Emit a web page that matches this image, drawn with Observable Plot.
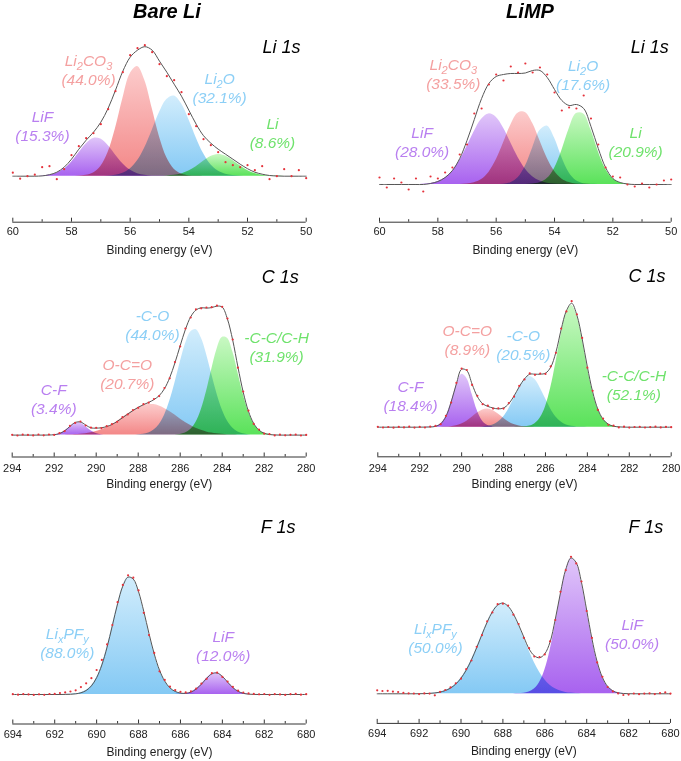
<!DOCTYPE html>
<html><head><meta charset="utf-8">
<script src="https://cdn.jsdelivr.net/npm/d3@7"></script>
<script src="https://cdn.jsdelivr.net/npm/@observablehq/plot@0.6"></script>
<style>
body{margin:0;background:#fff;font-family:"Liberation Sans",Arial,sans-serif;}
#root{position:relative;width:681px;height:761px;overflow:hidden;background:#fff;}
.title{position:absolute;font-weight:bold;font-style:italic;font-size:20px;transform:translate(-50%,-50%);white-space:nowrap;color:#000;}
</style></head>
<body>
<div id="root">
<svg width="0" height="0" style="position:absolute">
<defs>
<linearGradient id="g-purple" x1="0" y1="0" x2="0" y2="1"><stop offset="0" stop-color="#e0c6f9"/><stop offset="1" stop-color="#a862ef"/></linearGradient>
<linearGradient id="g-pink" x1="0" y1="0" x2="0" y2="1"><stop offset="0" stop-color="#fccccc"/><stop offset="1" stop-color="#f38787"/></linearGradient>
<linearGradient id="g-blue" x1="0" y1="0" x2="0" y2="1"><stop offset="0" stop-color="#d2edfc"/><stop offset="1" stop-color="#84c9f4"/></linearGradient>
<linearGradient id="g-green" x1="0" y1="0" x2="0" y2="1"><stop offset="0" stop-color="#c9f8c3"/><stop offset="1" stop-color="#5ae25a"/></linearGradient>
</defs>
</svg>
<div class="title" style="left:167px;top:11px">Bare Li</div>
<div class="title" style="left:530px;top:11px">LiMP</div>
</div>
<script>
// ---------- binding-energy sampling grids (eV) ----------
const liGrid = d3.range(60, 49.99, -0.25);   // 41 points
const cGrid  = d3.range(294, 279.99, -0.25); // 57 points
const fGrid  = d3.range(694, 679.99, -0.25); // 57 points

// ---------- Bare Li, Li 1s (intensity, a.u.) ----------
const bareLi1s_LiF    = [0,0,0,0,0.3,1.1,3.0,7.1,14.0,23.2,32.3,37.8,37.1,30.7,21.3,12.4,6.1,2.5,0.9,0.3,0.1,0,0,0,0,0,0,0,0,0,0,0,0,0,0,0,0,0,0,0,0];
const bareLi1s_Li2CO3 = [0,0,0,0,0,0,0,0,0,0.2,0.9,3.2,9.8,24.0,47.8,77.5,102.3,109.7,95.7,67.9,39.2,18.4,7.0,2.2,0.55,0.1,0,0,0,0,0,0,0,0,0,0,0,0,0,0,0];
const bareLi1s_Li2O   = [0,0,0,0,0,0,0,0,0,0,0,0,0,0.3,1.0,2.9,7.2,15.4,28.5,45.8,63.6,76.7,80.1,72.4,56.7,38.5,22.6,11.5,5.1,2.0,0.6,0.2,0,0,0,0,0,0,0,0,0];
const bareLi1s_Li     = [0,0,0,0,0,0,0,0,0,0,0,0,0,0,0,0,0,0,0,0,0,0.3,0.9,2.3,5.1,9.5,14.9,19.6,21.7,20.2,15.8,10.4,5.7,2.7,1.0,0.3,0.1,0,0,0,0];
const bareLi1s_fit    = [0,0,0,0,0.3,1.5,4,9,17,27,36,44,54,68,86,105,119,126,129.5,126,115,104,92,80,66,52,40.5,33,27,22,17,12,7.5,4,2,0.7,0.2,0,0,0,0];
const bareLi1s_data   = [3.5,-2.5,0,1.5,9,10,-3,7,21,30,38,43,52,67,85,104,121,128,131,124,112,100,96,84,62,50,37,31,24,14,11,9,11,6,10,-3,0,7,0,6,-2];
const bareLi1s_names  = ["LiF","Li_2CO_3","Li_2O","Li"];
const bareLi1s_pct    = [15.3,44.0,32.1,8.6];

// ---------- LiMP, Li 1s ----------
const limp1s_LiF    = [0,0,0,0,0,0,0.35,1.1,2.8,6.5,13.3,23.9,38.0,53.1,65.3,70.6,67.3,56.4,41.7,27.1,15.5,7.8,3.5,1.3,0.5,0.15,0,0,0,0,0,0,0,0,0,0,0,0,0,0,0];
const limp1s_Li2CO3 = [0,0,0,0,0,0,0,0,0,0,0,0.1,0.5,1.8,5.0,12.1,24.4,41.5,59.3,71.3,72.1,61.2,43.7,26.2,13.2,5.6,2.0,0.6,0.15,0,0,0,0,0,0,0,0,0,0,0,0];
const limp1s_Li2O   = [0,0,0,0,0,0,0,0,0,0,0,0,0,0,0,0,0,0.35,1.8,6.7,18.2,36.6,54.0,58.5,46.5,27.2,11.7,3.7,0.85,0.15,0,0,0,0,0,0,0,0,0,0,0];
const limp1s_Li     = [0,0,0,0,0,0,0,0,0,0,0,0,0,0,0,0,0,0,0,0,0,0.4,1.7,5.9,16.1,33.8,55.5,70.9,70.6,54.7,33.0,15.5,5.7,1.6,0.36,0.1,0,0,0,0,0];
const limp1s_fit    = [0,0,0,0,0,0,0,1,3,7,14,26,44,65,86,101,108,110,111,111,111.5,114,114,107,95,84,79,80,76,58,36,17,6,2,0.5,0,0,0,0,0,0];
const limp1s_data   = [7,-3,6,2,-5,6,-7,8,6,12,17,30,40,71,76,100,110,104,118,112,121,112,117,110,92,74,77,76,89,66,40,17,8,7,0,-2,1,-3,0,4,5];
const limp1s_names  = ["LiF","Li_2CO_3","Li_2O","Li"];
const limp1s_pct    = [28.0,33.5,17.6,20.9];

// ---------- Bare Li, C 1s ----------
const bareC1s_CF  = [0,0,0,0,0,0,0,0.1,0.3,1.4,4.1,8.4,12.1,12.2,8.6,4.3,1.5,0.4,0.1,0,0,0,0,0,0,0,0,0,0,0,0,0,0,0,0,0,0,0,0,0,0,0,0,0,0,0,0,0,0,0,0,0,0,0,0,0,0];
const bareC1s_OCO = [0,0,0,0,0,0,0,0,0,0.07,0.15,0.27,0.5,0.87,1.45,2.3,3.6,5.3,7.6,10.4,13.7,17.3,21.0,24.5,27.5,29.6,30.6,30.5,29.1,26.7,23.6,20.0,16.2,12.7,9.6,6.9,4.8,3.2,2.0,1.26,0.74,0.42,0.23,0.12,0.06,0,0,0,0,0,0,0,0,0,0,0,0];
const bareC1s_CO  = [0,0,0,0,0,0,0,0,0,0,0,0,0,0,0,0,0,0,0,0,0,0,0,0,0.3,0.83,2.1,5.0,10.4,19.7,33.8,52.1,72.5,91.0,103.2,105.6,97.4,81.2,61.0,41.4,25.3,14.0,7.0,3.1,1.3,0.47,0.15,0,0,0,0,0,0,0,0,0,0];
const bareC1s_CC  = [0,0,0,0,0,0,0,0,0,0,0,0,0,0,0,0,0,0,0,0,0,0,0,0,0,0,0,0,0,0,0,0.2,0.7,2.1,5.5,12.6,25.1,43.4,65.4,85.7,97.7,96.9,83.6,62.7,41.0,23.3,11.5,4.95,1.85,0.6,0.17,0,0,0,0,0,0];
const bareC1s_fit = [0,0,0,0,0,0,0,0.1,0.4,1.5,4.3,8.7,12.6,13.1,10.1,7.2,7.0,7.3,8.6,10.6,13.7,17.3,21.0,24.5,27.8,30.4,32.7,35.5,39.5,46.4,57.4,72.3,89.4,105.8,118.3,125.1,127.3,127.0,127.5,129.0,128.0,116.0,95.0,68.0,43.0,23.8,11.7,5.0,1.85,0.6,0.17,0,0,0,0,0,0];
const bareC1s_data= [0.3,-0.4,0.5,0.2,-0.3,0.6,-0.2,0.6,0.2,1.9,4.0,9.3,12.2,13.6,9.6,7.5,7.3,7.0,8.9,11.0,13.3,17.9,20.6,25.1,27.3,30.9,32.4,36.1,39.0,47.1,56.8,73.0,88.7,106.5,117.6,125.8,126.8,127.6,127.9,129.5,128.3,116.6,95.6,67.4,43.5,24.4,11.2,5.6,1.4,1.0,-0.3,0.4,-0.2,0.3,0.5,-0.4,0.2];
const bareC1s_names = ["C-F","O-C=O","-C-O","-C-C/C-H"];
const bareC1s_pct   = [3.4,20.7,44.0,31.9];

// ---------- LiMP, C 1s ----------
const limpC1s_CF  = [0,0,0,0,0,0,0,0,0,0,0.13,0.77,3.3,10.5,24.6,42.0,52.8,48.8,33.0,16.4,6.0,1.6,0.32,0.05,0,0,0,0,0,0,0,0,0,0,0,0,0,0,0,0,0,0,0,0,0,0,0,0,0,0,0,0,0,0,0,0,0];
const limpC1s_OCO = [0,0,0,0,0,0,0,0,0,0,0,0,0.05,0.18,0.55,1.4,3.1,6.0,9.9,14.1,17.3,18.3,16.7,13.1,8.9,5.2,2.6,1.15,0.43,0.14,0,0,0,0,0,0,0,0,0,0,0,0,0,0,0,0,0,0,0,0,0,0,0,0,0,0,0];
const limpC1s_CO  = [0,0,0,0,0,0,0,0,0,0,0,0,0,0,0,0,0,0,0,0,0.29,0.86,2.2,5.1,10.3,18.3,28.6,39.3,47.6,50.7,47.6,39.3,28.6,18.3,10.3,5.1,2.2,0.86,0.29,0.08,0,0,0,0,0,0,0,0,0,0,0,0,0,0,0,0,0];
const limpC1s_CC  = [0,0,0,0,0,0,0,0,0,0,0,0,0,0,0,0,0,0,0,0,0,0,0,0,0,0,0,0.08,0.34,1.2,3.5,9.1,20.3,39.1,64.8,92.7,114.3,121.6,111.6,88.4,60.3,35.5,18.0,7.9,3.0,0.97,0.27,0.07,0,0,0,0,0,0,0,0,0];
const limpC1s_fit = [0,0,0,0,0,0,0,0,0.05,0.1,0.2,0.8,3.4,10.7,25.2,43.4,58.0,56.5,43.0,30.6,23.6,20.8,19.2,18.3,19.2,23.5,31.2,40.5,48.4,53.0,53.0,53.0,54.0,60.0,75.1,97.8,116.5,124.0,112.0,88.5,60.3,35.5,18.0,7.9,3.0,1.0,0.3,0.1,0,0,0,0,0,0,0,0,0];
const limpC1s_data= [0.4,-0.3,0.2,-0.5,0.3,-0.2,0.5,-0.4,0.3,-0.3,0.6,1.3,3.0,11.4,24.6,44.3,58.6,57.2,42.3,31.4,23.0,21.5,18.6,18.9,18.6,24.2,30.5,41.3,47.8,53.8,52.4,53.7,53.3,60.8,74.4,98.6,115.8,126.0,112.9,89.3,59.5,36.4,17.3,8.6,2.4,1.5,-0.2,0.5,-0.4,0.2,0.4,-0.3,0.1,0.5,-0.2,0.3,0];
const limpC1s_names = ["C-F","O-C=O","-C-O","-C-C/C-H"];
const limpC1s_pct   = [18.4,8.9,20.5,52.1];

// ---------- Bare Li, F 1s ----------
const bareF1s_LiPF = [0,0,0,0,0,0,0,0,0,0,0.1,0.2,0.65,1.7,4.0,8.6,16.8,29.6,47.4,68.9,90.7,108.4,117.4,115.4,102.8,83.1,60.9,40.5,24.4,13.4,6.6,3.0,1.2,0.45,0.15,0.05,0,0,0,0,0,0,0,0,0,0,0,0,0,0,0,0,0,0,0,0,0];
const bareF1s_LiF  = [0,0,0,0,0,0,0,0,0,0,0,0,0,0,0,0,0,0,0,0,0,0,0,0,0,0,0,0,0,0,0,0.05,0.2,0.77,2.26,5.4,10.3,16.2,20.7,21.5,18.1,12.4,6.9,3.2,1.17,0.35,0.09,0,0,0,0,0,0,0,0,0,0];
const bareF1s_fit  = [0,0,0,0,0,0,0,0,0,0,0.1,0.2,0.65,1.7,4.0,8.6,16.8,29.6,47.4,68.9,90.7,108.4,117.4,115.4,102.8,83.1,60.9,40.5,24.4,13.4,6.6,3.05,1.4,1.2,2.4,5.45,10.3,16.2,20.7,21.5,18.1,12.4,6.9,3.2,1.17,0.35,0.09,0,0,0,0,0,0,0,0,0,0];
const bareF1s_data = [0.3,-0.2,0.4,0.1,-0.4,0.2,-0.3,0.5,0.6,1.4,2.1,3.0,4.2,7.4,11.2,16.3,24.5,34.6,50.1,69.5,92.3,109.6,119.2,116.8,104.1,81.7,59.4,41.6,23.2,14.6,7.8,4.4,2.7,2.1,3.2,5.9,10.9,15.7,21.3,21.9,17.6,12.9,7.6,3.9,2.0,1.1,0.6,0.2,0.5,-0.3,0.4,0.1,-0.4,0.3,0.6,-0.2,0.3];
const bareF1s_names = ["Li_xPF_y","LiF"];
const bareF1s_pct   = [88.0,12.0];

// ---------- LiMP, F 1s ----------
const limpF1s_LiPF = [0,0,0,0,0,0,0,0,0.08,0.17,0.39,0.82,1.66,3.2,5.7,9.7,15.6,23.7,34.0,46.2,59.2,71.7,82.1,88.7,90.7,87.5,79.9,68.8,56.1,43.1,31.4,21.6,14.0,8.6,5.0,2.7,1.4,0.69,0.32,0.14,0,0,0,0,0,0,0,0,0,0,0,0,0,0,0,0,0];
const limpF1s_LiF  = [0,0,0,0,0,0,0,0,0,0,0,0,0,0,0,0,0,0,0,0,0,0,0,0,0,0,0,0.17,0.58,1.8,4.8,11.3,23.6,43.1,69.5,98.5,123.0,135.2,130.8,111.4,83.5,55.1,32.0,16.4,7.4,2.9,1.0,0.31,0.08,0,0,0,0,0,0,0,0];
const limpF1s_fit  = [0,0,0,0,0,0,0,0,0.08,0.17,0.39,0.82,1.66,3.2,5.7,9.7,15.6,23.7,34.0,46.2,59.2,71.7,82.1,88.7,90.7,87.5,79.9,69.0,56.7,44.9,38.0,36.0,40.0,51.7,74.5,101.2,124.4,135.9,131.1,111.5,83.5,55.1,32.0,16.4,7.4,2.9,1.0,0.3,0.08,0,0,0,0,0,0,0,0];
const limpF1s_data = [3.5,2.8,3.0,2.2,1.8,0.9,0.5,0.3,-0.3,0.4,0.2,-1.5,1.9,3.8,6.4,10.5,15.1,24.6,33.3,47.0,58.6,72.5,81.4,89.6,90.1,88.2,79.1,69.8,56.0,45.6,37.3,36.8,39.4,52.5,73.8,102.0,123.6,137.0,130.4,112.3,82.8,55.9,31.4,17.0,6.8,2.4,0.4,-1.2,-0.8,0.3,-0.4,0.2,0.5,-0.3,0.6,1.4,0.2];
const limpF1s_names = ["Li_xPF_y","LiF"];
const limpF1s_pct   = [50.0,50.0];

// ---------- axis ticks ----------
const liMajor = [60,58,56,54,52,50], liMinor = [59,57,55,53,51];
const cMajor = [294,292,290,288,286,284,282,280], cMinor = [293,291,289,287,285,283,281];
const fMajor = [694,692,690,688,686,684,682,680], fMinor = [693,691,689,687,685,683,681];

// ---------- styles & layout ----------
const labelColor = {purple:"#b97ff0", pink:"#f4a0a0", blue:"#8ccff6", green:"#6fe26c"};
const FONT = "'Liberation Sans', Arial, sans-serif";

const panels = [
  {left:0, width:320, mL:12.3, mR:14.3, top:25, axisY:221.7, baseY:175.7, tickPad:4.5, xlabDy:28.2, titleDx:-5.7, titleY:47,
   grid:liGrid, domain:[60,50], major:liMajor, minor:liMinor, title:"Li 1s",
   comps:[[bareLi1s_LiF,"purple"],[bareLi1s_Li2CO3,"pink"],[bareLi1s_Li2O,"blue"],[bareLi1s_Li,"green"]],
   fit:bareLi1s_fit, data:bareLi1s_data, names:bareLi1s_names, pct:bareLi1s_pct,
   anchors:[[58.99,58.7],[57.42,114.7],[52.95,96.7],[51.15,51.7]]},
  {left:340, width:341, mL:39, mR:10.3, top:25, axisY:221.7, baseY:184, tickPad:4.5, xlabDy:28.2, titleDx:-2.4, titleY:47,
   grid:liGrid, domain:[60,50], major:liMajor, minor:liMinor, title:"Li 1s",
   comps:[[limp1s_LiF,"purple"],[limp1s_Li2CO3,"pink"],[limp1s_Li2O,"blue"],[limp1s_Li,"green"]],
   fit:limp1s_fit, data:limp1s_data, names:limp1s_names, pct:limp1s_pct,
   anchors:[[58.54,51],[57.47,119],[53.02,118],[51.22,51]]},
  {left:0, width:320, mL:11.7, mR:14.3, top:262, axisY:456.5, baseY:434.6, tickPad:7, xlabDy:27, titleDx:-7.4, titleY:276.7,
   grid:cGrid, domain:[294,280], major:cMajor, minor:cMinor, title:"C 1s",
   comps:[[bareC1s_CF,"purple"],[bareC1s_OCO,"pink"],[bareC1s_CO,"blue"],[bareC1s_CC,"green"]],
   fit:bareC1s_fit, data:bareC1s_data, names:bareC1s_names, pct:bareC1s_pct,
   anchors:[[292.02,44.7],[288.52,69.7],[287.32,119],[281.41,97.4]]},
  {left:340, width:341, mL:37.3, mR:10.3, top:262, axisY:456.3, baseY:426.7, tickPad:7, xlabDy:27, titleDx:-5.7, titleY:276,
   grid:cGrid, domain:[294,280], major:cMajor, minor:cMinor, title:"C 1s",
   comps:[[limpC1s_CF,"purple"],[limpC1s_OCO,"pink"],[limpC1s_CO,"blue"],[limpC1s_CC,"green"]],
   fit:limpC1s_fit, data:limpC1s_data, names:limpC1s_names, pct:limpC1s_pct,
   anchors:[[292.44,40],[289.73,96],[287.06,90.7],[281.78,50.7]]},
  {left:0, width:320, mL:12.3, mR:14.3, top:505, axisY:723.5, baseY:694, tickPad:5.8, xlabDy:28, titleDx:-10.7, titleY:526.7,
   grid:fGrid, domain:[694,680], major:fMajor, minor:fMinor, title:"F 1s",
   comps:[[bareF1s_LiPF,"blue"],[bareF1s_LiF,"purple"]],
   fit:bareF1s_fit, data:bareF1s_data, names:bareF1s_names, pct:bareF1s_pct,
   anchors:[[691.4,60],[683.96,57.3]]},
  {left:340, width:341, mL:36.7, mR:11, top:505, axisY:722.9, baseY:693.3, tickPad:5.8, xlabDy:28, titleDx:-7.3, titleY:526.7,
   grid:fGrid, domain:[694,680], major:fMajor, minor:fMinor, title:"F 1s",
   comps:[[limpF1s_LiPF,"blue"],[limpF1s_LiF,"purple"]],
   fit:limpF1s_fit, data:limpF1s_data, names:limpF1s_names, pct:limpF1s_pct,
   anchors:[[691.22,64.3],[681.83,68.3]]}
];

function subscripts(svg) {
  const NS = "http://www.w3.org/2000/svg";
  for (const t of svg.querySelectorAll("text")) {
    if (t.children.length) continue;
    const s = t.textContent;
    if (!s.includes("_")) continue;
    t.textContent = "";
    const parts = s.split(/_(.)/);
    parts.forEach((p, k) => {
      if (!p) return;
      const ts = document.createElementNS(NS, "tspan");
      ts.textContent = p;
      if (k % 2 === 1) { ts.setAttribute("dy", "4"); ts.setAttribute("font-size", "11"); }
      else if (k > 0) ts.setAttribute("dy", "-4");
      t.appendChild(ts);
    });
  }
}

const root = document.getElementById("root");
for (const p of panels) {
  const innerH = p.axisY - p.top;
  const lo = -(p.axisY - p.baseY);
  const mB = 42;
  const rows = p.grid.map((e, k) => ({e, fit: p.fit[k], data: p.data[k]}));
  const labels = p.names.map((n, k) => ({name: n, pct: `(${p.pct[k].toFixed(1)}%)`, e: p.anchors[k][0], i: p.anchors[k][1], color: labelColor[p.comps[k][1]]}));
  const marks = [];
  for (const [vals, g] of p.comps) {
    marks.push(Plot.areaY(p.grid.map((e, k) => ({e, v: vals[k]})), {x: "e", y: "v", fill: `url(#g-${g})`, curve: "catmull-rom", mixBlendMode: "multiply"}));
  }
  marks.push(Plot.line(rows, {x: "e", y: "fit", stroke: "#555", strokeWidth: 1, curve: "catmull-rom"}));
  marks.push(Plot.dot(rows, {x: "e", y: "data", r: 1.1, fill: "#e5323b"}));
  marks.push(Plot.ruleY([lo], {stroke: "#333", strokeWidth: 1}));
  marks.push(Plot.tickX(p.major, {x: d => d, stroke: "#333", insetTop: innerH - 4}));
  marks.push(Plot.tickX(p.minor, {x: d => d, stroke: "#333", insetTop: innerH - 2.5}));
  marks.push(Plot.axisX({ticks: p.major, tickSize: 0, tickPadding: p.tickPad, fontSize: 11, fill: "#222", label: null}));
  marks.push(Plot.text(["Binding energy (eV)"], {text: d => d, frameAnchor: "bottom", dy: p.xlabDy, lineAnchor: "middle", fontSize: 12, fill: "#222"}));
  marks.push(Plot.text([p.title], {text: d => d, frameAnchor: "top-right", dx: p.titleDx, dy: p.titleY - p.top, textAnchor: "end", lineAnchor: "middle", fontSize: 18, fontStyle: "italic", fill: "#000"}));
  marks.push(Plot.text(labels, {x: "e", y: "i", text: "name", fill: "color", fontSize: 15.5, fontStyle: "italic", lineAnchor: "middle"}));
  marks.push(Plot.text(labels, {x: "e", y: "i", text: "pct", fill: "color", dy: 19, fontSize: 15.5, fontStyle: "italic", lineAnchor: "middle"}));
  const svg = Plot.plot({
    width: p.width, height: innerH + mB,
    marginTop: 0, marginBottom: mB, marginLeft: p.mL, marginRight: p.mR,
    x: {domain: p.domain},
    y: {domain: [lo, lo + innerH], axis: null},
    color: {type: "identity"},
    style: {fontFamily: FONT, background: "transparent", overflow: "visible"},
    marks
  });
  svg.style.position = "absolute";
  svg.style.left = p.left + "px";
  svg.style.top = p.top + "px";
  subscripts(svg);
  root.appendChild(svg);
}
</script>
</body></html>
